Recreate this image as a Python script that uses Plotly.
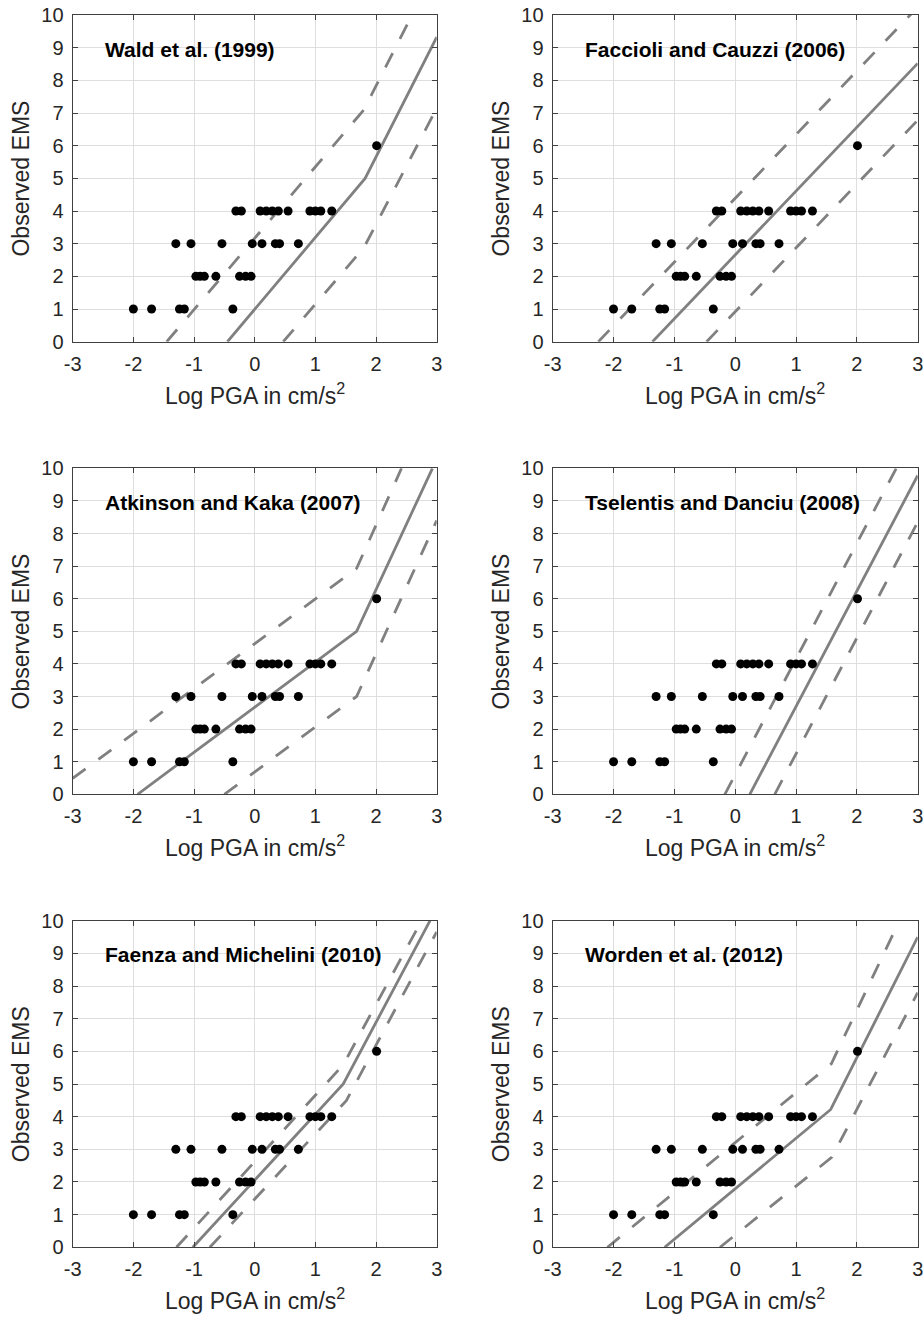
import plotly.graph_objects as go

# ---- observations: log PGA (cm/s^2) grouped by observed EMS intensity ----
ems_levels = [1, 2, 3, 4, 6]
logpga_ems1 = [-2.00, -1.70, -1.24, -1.16, -0.36]
logpga_ems2 = [-0.97, -0.90, -0.83, -0.64, -0.25, -0.15, -0.06]
logpga_ems3 = [-1.30, -1.05, -0.54, -0.04, 0.12, 0.34, 0.41, 0.72]
logpga_ems4 = [-0.31, -0.22, 0.09, 0.19, 0.29, 0.39, 0.55, 0.91, 1.00, 1.09, 1.27]
logpga_ems6 = [2.01]

# ---- GMICE relations: vertices (log PGA, intensity) of central curve and bounds ----
model_names = [
    "Wald et al. (1999)",
    "Faccioli and Cauzzi (2006)",
    "Atkinson and Kaka (2007)",
    "Tselentis and Danciu (2008)",
    "Faenza and Michelini (2010)",
    "Worden et al. (2012)",
]

wald_mid = ([-0.45, 1.82, 3.00], [0.0, 5.00, 9.32])
wald_hi = ([-1.45, 1.80, 2.62], [0.0, 7.10, 10.10])
wald_lo = ([0.47, 1.80, 3.00], [0.0, 2.88, 7.15])

fc_mid = ([-1.36, 3.00], [0.0, 8.52])
fc_hi = ([-2.25, 3.00], [0.0, 10.24])
fc_lo = ([-0.47, 3.00], [0.0, 6.78])

ak_mid = ([-1.93, 1.68, 2.93], [0.0, 5.00, 10.00])
ak_hi = ([-3.00, 1.68, 2.42], [0.49, 6.93, 10.00])
ak_lo = ([-0.50, 1.68, 3.00], [0.0, 3.00, 8.40])

td_mid = ([0.24, 3.00], [0.0, 9.78])
td_hi = ([-0.17, 3.00], [0.0, 11.25])
td_lo = ([0.65, 3.00], [0.0, 8.35])

fm_mid = ([-1.02, 1.46, 2.89], [0.0, 5.00, 10.00])
fm_hi = ([-1.29, 1.46, 2.75], [0.0, 5.59, 10.00])
fm_lo = ([-0.74, 1.51, 3.00], [0.0, 4.49, 9.66])

wo_mid = ([-1.16, 1.57, 3.00], [0.0, 4.22, 9.50])
wo_hi = ([-2.10, 1.58, 2.70], [0.0, 5.62, 10.00])
wo_lo = ([-0.25, 1.59, 3.00], [0.0, 2.76, 7.80])

model_curves = [
    (wald_mid, wald_hi, wald_lo),
    (fc_mid, fc_hi, fc_lo),
    (ak_mid, ak_hi, ak_lo),
    (td_mid, td_hi, td_lo),
    (fm_mid, fm_hi, fm_lo),
    (wo_mid, wo_hi, wo_lo),
]

x_ticks = [-3, -2, -1, 0, 1, 2, 3]
y_ticks = list(range(0, 11))

# ---- figure geometry (pixels) ----
W, H = 923, 1322
col_px = [(72.7, 436.7), (552.7, 917.7)]
row_px = [(15.0, 341.7), (468.3, 794.3), (920.7, 1247.3)]


def px_x(x):
    return x / W


def px_y(y):
    return 1 - y / H


FONT = "Liberation Sans, Arial, Helvetica, sans-serif"
TXT = "#262626"
CURVE = "#808080"

obs_x = logpga_ems1 + logpga_ems2 + logpga_ems3 + logpga_ems4 + logpga_ems6
obs_y = ([ems_levels[0]] * len(logpga_ems1) + [ems_levels[1]] * len(logpga_ems2)
         + [ems_levels[2]] * len(logpga_ems3) + [ems_levels[3]] * len(logpga_ems4)
         + [ems_levels[4]] * len(logpga_ems6))

fig = go.Figure()
layout = dict(
    width=W, height=H,
    margin=dict(l=0, r=0, t=0, b=0, autoexpand=False),
    paper_bgcolor="white", plot_bgcolor="white",
    showlegend=False,
    font=dict(family=FONT, color=TXT),
)
annotations = []

for i, name in enumerate(model_names):
    r, c = divmod(i, 2)
    n = "" if i == 0 else str(i + 1)
    xa, ya = "x" + n, "y" + n
    x0, x1 = col_px[c]
    y0, y1 = row_px[r]

    axis_common = dict(
        showline=True, linecolor="#404040", linewidth=1.3, mirror="ticks",
        ticks="inside", ticklen=5, tickcolor="#404040", tickwidth=1,
        showgrid=True, gridcolor="#dedede", gridwidth=1,
        zeroline=False, tickfont=dict(family=FONT, size=20, color=TXT),
        fixedrange=True, automargin=False, ticklabeloverflow="allow",
    )
    layout["xaxis" + n] = dict(
        axis_common, domain=[px_x(x0), px_x(x1)], range=[-3, 3],
        tickmode="array", tickvals=x_ticks, ticktext=[str(v) for v in x_ticks],
        anchor=ya, ticklabelstandoff=4,
    )
    layout["yaxis" + n] = dict(
        axis_common, domain=[px_y(y1), px_y(y0)], range=[0, 10],
        tickmode="array", tickvals=y_ticks, ticktext=[str(v) for v in y_ticks],
        anchor=xa, ticklabelstandoff=4,
    )

    mid, hi, lo = model_curves[i]
    for xs, ys in (hi, lo):
        fig.add_trace(go.Scatter(
            x=xs, y=ys, mode="lines", xaxis=xa, yaxis=ya,
            line=dict(color=CURVE, width=2.8, dash="16px,16px"),
            hoverinfo="skip",
        ))
    fig.add_trace(go.Scatter(
        x=mid[0], y=mid[1], mode="lines", xaxis=xa, yaxis=ya,
        line=dict(color=CURVE, width=2.8), hoverinfo="skip",
    ))
    fig.add_trace(go.Scatter(
        x=obs_x, y=obs_y, mode="markers", xaxis=xa, yaxis=ya,
        marker=dict(color="black", size=9, line=dict(width=0)),
        cliponaxis=False,
    ))

    # model name inside the panel
    annotations.append(dict(
        x=-2.5, y=8.95, xref=xa, yref=ya, text="<b>" + name + "</b>",
        showarrow=False, xanchor="left", yanchor="middle",
        font=dict(family=FONT, size=21, color="black"),
    ))
    # axis titles
    annotations.append(dict(
        x=px_x((x0 + x1) / 2), y=px_y(y1 + 52),
        xref="paper", yref="paper", text="Log PGA in cm/s<sup>2</sup>",
        showarrow=False, xanchor="center", yanchor="middle",
        font=dict(family=FONT, size=23, color=TXT),
    ))
    annotations.append(dict(
        x=px_x(x0 - 51.5), y=px_y((y0 + y1) / 2),
        xref="paper", yref="paper", text="Observed EMS", textangle=-90,
        showarrow=False, xanchor="center", yanchor="middle",
        font=dict(family=FONT, size=23, color=TXT),
    ))

layout["annotations"] = annotations
fig.update_layout(**layout)
fig.write_html("out.html")
